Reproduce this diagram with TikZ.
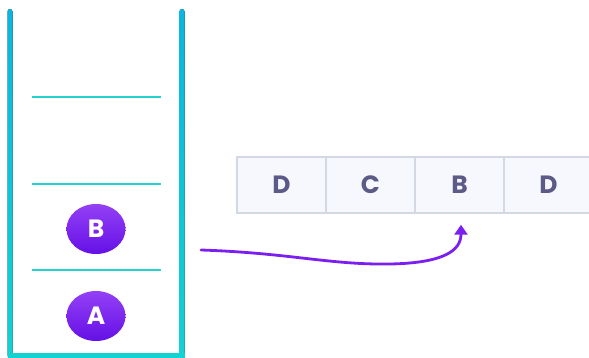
\documentclass[tikz,border=0pt]{standalone}
\usepackage{fontspec}
\setmainfont{Poppins}
\usetikzlibrary{shapes.geometric,arrows.meta}
\definecolor{wallA}{HTML}{0AB6E0}
\definecolor{wallB}{HTML}{12D2D2}
\definecolor{divcol}{HTML}{22D3CF}
\definecolor{purpA}{HTML}{9440F6}
\definecolor{purpB}{HTML}{6510E6}
\definecolor{cellfill}{HTML}{F7F8FD}
\definecolor{celldraw}{HTML}{D3D9E3}
\definecolor{celltext}{HTML}{5C5A86}
\definecolor{arrowcol}{HTML}{7A1FF0}
\tikzset{
  wall/.style={top color=wallA, bottom color=wallB, draw=none, rounded corners=2.5pt},
  divider/.style={draw=divcol, line width=2pt},
  item/.style={ellipse, minimum width=59pt, minimum height=50pt, inner sep=0pt,
    top color=purpA, bottom color=purpB, draw=none, text=white,
    font=\fontsize{25}{25}\selectfont\bfseries},
  cell/.style={rectangle, minimum width=89pt, minimum height=56pt, inner sep=0pt,
    fill=cellfill, draw=celldraw, line width=1.5pt, text=celltext,
    font=\fontsize{25}{25}\selectfont\bfseries},
  move/.style={draw=arrowcol, line width=2.8pt, line cap=round,
    -{Triangle[length=10pt,width=13pt]}}
}
\begin{document}
\begin{tikzpicture}[x=1pt,y=-1pt]
\useasboundingbox (0,0) rectangle (589,358);
% stack walls
\fill[wall] (7.5,9) rectangle (12.5,358);
\fill[wall] (179.5,9) rectangle (184.5,358);
\fill[wallB] (7.5,353) rectangle (184.5,357.5);
% dividers
\draw[divider] (32,97) -- (161,97);
\draw[divider] (32,184) -- (161,184);
\draw[divider] (32,270) -- (161,270);
% items in the stack
\node[item] (sB) at (96,229) {B};
\node[item] (sA) at (96,316) {A};
% row of cells
\node[cell] (c1) at (281.5,185) {D};
\node[cell] (c2) at (370.5,185) {C};
\node[cell] (c3) at (459.5,185) {B};
\node[cell] (c4) at (548.5,185) {D};
% arrow
\coordinate (from) at (201,250);
\coordinate (to) at ([xshift=1.5pt,yshift=-11pt]c3.south);
\draw[move] (from) .. controls (290,253) and (330,265) .. (390,264)
  .. controls (445,263) and (461,250) .. (to);
\end{tikzpicture}
\end{document}
